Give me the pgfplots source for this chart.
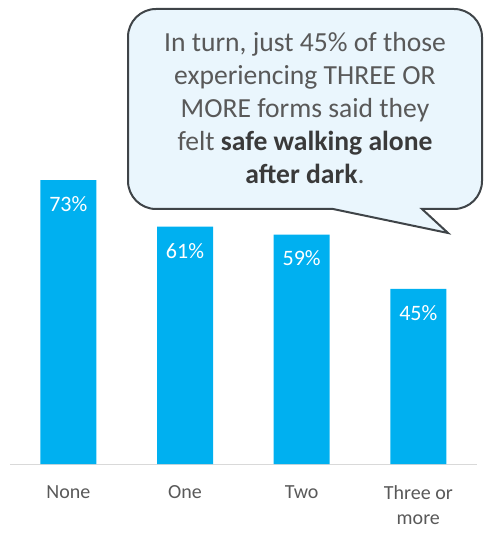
\documentclass[border=0pt]{standalone}
\usepackage{pgfplots}
\pgfplotsset{compat=1.18}
\usepackage{fontspec}
\setmainfont{Carlito}
\definecolor{barblue}{HTML}{00B0F0}
\definecolor{tickgray}{HTML}{595959}
\definecolor{axisgray}{HTML}{D9D9D9}
\definecolor{callfill}{HTML}{EAF6FD}
\definecolor{callline}{HTML}{3F4448}
\definecolor{calltext}{HTML}{595959}
\definecolor{calldark}{HTML}{3A3A3A}
\begin{document}
\begin{tikzpicture}
\useasboundingbox (-10pt,-71pt) rectangle (477pt,464pt);
\begin{axis}[at={(0,0)}, anchor=south west, scale only axis,
  width=466.67pt, height=457pt,
  xmin=-0.5, xmax=3.5, ymin=0, ymax=117.5,
  axis x line=bottom, axis y line=none,
  axis line style={-, draw=axisgray, line width=1pt},
  xtick=data, xticklabels={None,One,Two,{Three or\\more}},
  major tick length=0pt,
  xticklabel style={align=center, anchor=north, inner sep=0pt, yshift=-21pt,
    font=\fontsize{20}{25}\selectfont, text=tickgray},
  ytick=\empty,
  /pgf/number format/assume math mode=true,
  ybar, bar width=0.48,
  nodes near coords={\pgfmathprintnumber{\pgfplotspointmeta}\%},
  nodes near coords style={anchor=center, yshift=-24pt, text=white,
    font=\fontsize{22}{26}\selectfont},
  clip=false]
\addplot[fill=barblue, draw=none] coordinates {(0,73) (1,61) (2,59) (3,45)};
\end{axis}
\def\r{28pt}
\draw[line width=2pt, draw=callline, fill=callfill, line join=miter]
  (323pt,255pt) -- (146pt,255pt)
  arc[start angle=270, end angle=180, radius=\r] -- (118pt,427pt)
  arc[start angle=180, end angle=90, radius=\r] -- (444pt,455pt)
  arc[start angle=90, end angle=0, radius=\r] -- (472pt,283pt)
  arc[start angle=0, end angle=-90, radius=\r] -- (412pt,255pt)
  -- (438pt,231pt) -- cycle;
\node[align=center, inner sep=0pt, anchor=center, text=calltext,
  font=\fontsize{27.6}{33}\selectfont] at (295pt,355.5pt)
  {In turn, just 45\% of those\\experiencing THREE OR\\MORE forms said they\\felt {\color{calldark}\bfseries safe walking alone}\\{\color{calldark}\bfseries after dark}.};
\end{tikzpicture}
\end{document}
